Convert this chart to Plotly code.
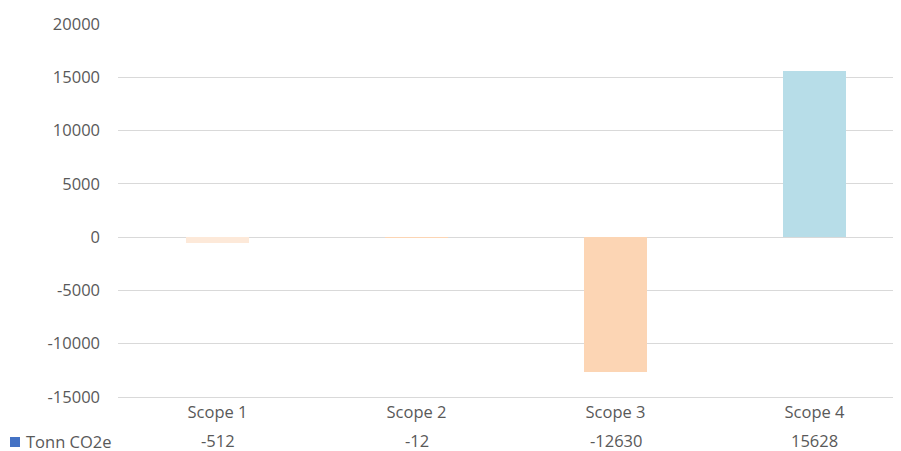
import plotly.graph_objects as go

categories = ["Scope 1", "Scope 2", "Scope 3", "Scope 4"]
values = [-512, -12, -12630, 15628]
series_name = "Tonn CO2e"
y_ticks = [-15000, -10000, -5000, 0, 5000, 10000, 15000, 20000]

bar_colors = ["#FDE9D9", "#FCD5B4", "#FCD5B4", "#B7DDE8"]
text_color = "#595959"
grid_color = "#D9D9D9"
font_family = "Open Sans"
font_size = 16.5

# page has an 8px body margin; work in page pixels and subtract it
OFF = 8
W, H = 901 - OFF, 451 - OFF
ml, mr, mt, mb = 118 - OFF, 1, 24 - OFF, 54
plot_w = W - ml - mr
plot_h = H - mt - mb
slot = 199.0


def py(page_y):
    # page y -> paper y
    return ((H - mb) - (page_y - OFF)) / plot_h


def px(page_x):
    return ((page_x - OFF) - ml) / plot_w


fig = go.Figure()
fig.add_trace(go.Bar(
    x=list(range(len(categories))),
    y=values,
    width=0.317,
    marker=dict(color=bar_colors, line=dict(width=0)),
    showlegend=False,
    hoverinfo="x+y",
))

# data table row of values
for i, v in enumerate(values):
    fig.add_annotation(
        x=i, xref="x", y=py(440), yref="paper",
        text=str(v), showarrow=False, xanchor="center", yanchor="middle",
        font=dict(family=font_family, size=font_size, color=text_color),
    )

# legend key
fig.add_shape(
    type="rect", xref="paper", yref="paper",
    x0=px(10), x1=px(20), y0=py(447), y1=py(437),
    fillcolor="#4472C4", line=dict(width=0),
)
fig.add_annotation(
    x=px(24), xref="paper", y=py(441), yref="paper",
    text=series_name, showarrow=False, xanchor="left", yanchor="middle",
    font=dict(family=font_family, size=font_size, color=text_color),
)

fig.update_layout(
    width=W, height=H,
    margin=dict(l=ml, r=mr, t=mt, b=mb, pad=0),
    paper_bgcolor="white", plot_bgcolor="white",
    font=dict(family=font_family, size=font_size, color=text_color),
    bargap=0,
    xaxis=dict(
        range=[-0.5, -0.5 + plot_w / slot],
        tickmode="array", tickvals=list(range(len(categories))), ticktext=categories,
        showgrid=False, zeroline=False,
        showline=True, linecolor=grid_color, linewidth=1.3,
        ticks="",
        ticklabelstandoff=0,
        tickfont=dict(family=font_family, size=font_size, color=text_color),
    ),
    yaxis=dict(
        range=[-15000, 20000],
        tickmode="array", tickvals=y_ticks, ticktext=[str(t) for t in y_ticks],
        showgrid=True, gridcolor=grid_color, gridwidth=1.3,
        zeroline=True, zerolinecolor=grid_color, zerolinewidth=1.3,
        showline=False, ticks="",
        ticklabelstandoff=17,
        tickfont=dict(family=font_family, size=font_size, color=text_color),
    ),
)

fig.write_html("out.html")
